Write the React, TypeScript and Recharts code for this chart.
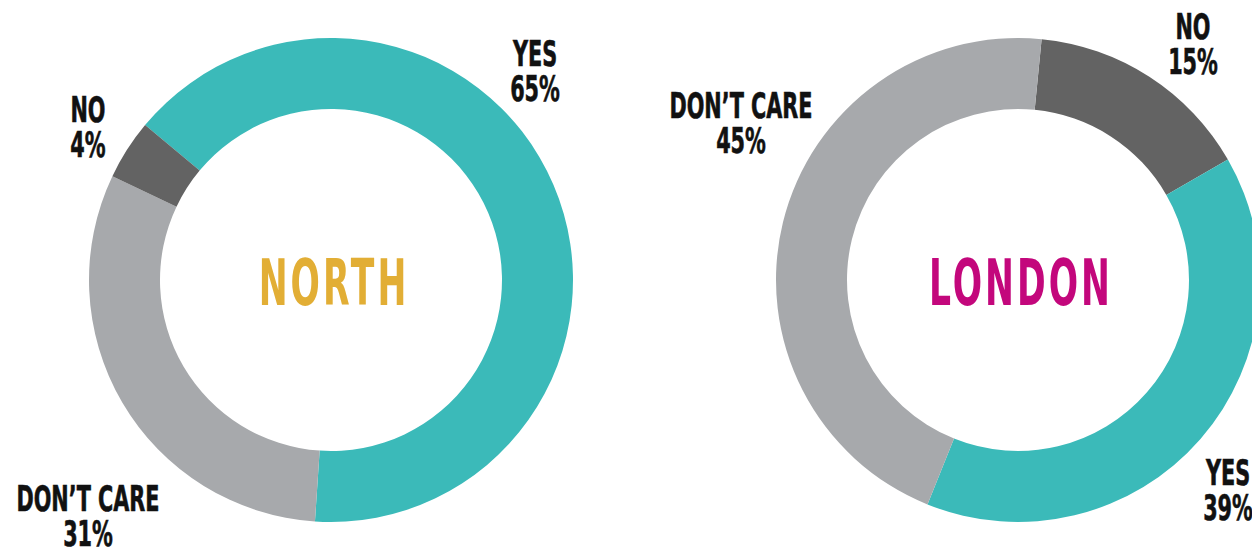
import React from "react";
import { PieChart, Pie, Cell } from "recharts";

const categories = ["YES", "DON’T CARE", "NO"];
const northValues = [65, 31, 4];
const londonCategories = ["NO", "YES", "DON’T CARE"];
const londonValues = [15, 39, 45];
const regionTitles = ["NORTH", "LONDON"];

const COLORS: Record<string, string> = {
  YES: "#3BBAB9",
  "DON’T CARE": "#A7A9AC",
  NO: "#636363",
};
const TITLE_COLORS = ["#E2AE35", "#C3077C"];

const northData = categories.map((name, i) => ({ name, value: northValues[i] }));
const londonData = londonCategories.map((name, i) => ({ name, value: londonValues[i] }));

// label offsets relative to each pie center (layout, not data)
const northLabelPos: Record<string, { dx: number; dy: number }> = {
  YES: { dx: 204, dy: -214 },
  NO: { dx: -243, dy: -158 },
  "DON’T CARE": { dx: -243, dy: 231 },
};
const londonLabelPos: Record<string, { dx: number; dy: number }> = {
  "DON’T CARE": { dx: -277, dy: -162 },
  NO: { dx: 175, dy: -241 },
  YES: { dx: 210, dy: 205 },
};

const FONT = "'DejaVu Sans Condensed', 'DejaVu Sans', sans-serif";
const SX = 0.66;

const makeLabel = (
  layout: Record<string, { dx: number; dy: number }>,
  title: string,
  titleColor: string
) => (props: any) => {
  const { cx, cy, name, value, index } = props;
  const pos = layout[name];
  if (!pos) return null;
  const x = cx + pos.dx;
  const y = cy + pos.dy;
  return (
    <g>
      {index === 0 ? (
        <g transform={`translate(${cx + 3},${cy + 25}) scale(0.6,1)`}>
          <text
            x={0}
            y={0}
            textAnchor="middle"
            fill={titleColor}
            fontFamily={FONT}
            fontWeight={700}
            fontSize={64}
            letterSpacing={5}
          >
            {title}
          </text>
        </g>
      ) : null}
      <g transform={`translate(${x},${y}) scale(${SX},1)`}>
        <text x={0} y={0} textAnchor="middle" fill="#111" stroke="#111" strokeWidth={0.6} fontFamily={FONT} fontWeight={700} fontSize={35}>
          {name}
        </text>
        <text x={0} y={35} textAnchor="middle" fill="#111" stroke="#111" strokeWidth={0.6} fontFamily={FONT} fontWeight={700} fontSize={35}>
          {`${value}%`}
        </text>
      </g>
    </g>
  );
};

export default function App() {
  return (
    <div style={{ position: "absolute", left: 0, top: 0, width: 1252, height: 549, background: "#fff" }}>
      <PieChart width={1252} height={549} margin={{ top: 0, right: 0, bottom: 0, left: 0 }}>
        <Pie
          data={northData}
          dataKey="value"
          nameKey="name"
          cx={331}
          cy={280}
          innerRadius={171}
          outerRadius={242}
          startAngle={140.2}
          endAngle={-219.8}
          stroke="none"
          label={makeLabel(northLabelPos, regionTitles[0], TITLE_COLORS[0])}
          labelLine={false}
          isAnimationActive={false}
        >
          {northData.map((d) => (
            <Cell key={d.name} fill={COLORS[d.name]} />
          ))}
        </Pie>
        <Pie
          data={londonData}
          dataKey="value"
          nameKey="name"
          cx={1018}
          cy={280}
          innerRadius={171}
          outerRadius={242}
          startAngle={84.4}
          endAngle={-275.6}
          stroke="none"
          label={makeLabel(londonLabelPos, regionTitles[1], TITLE_COLORS[1])}
          labelLine={false}
          isAnimationActive={false}
        >
          {londonData.map((d) => (
            <Cell key={d.name} fill={COLORS[d.name]} />
          ))}
        </Pie>
      </PieChart>
    </div>
  );
}
